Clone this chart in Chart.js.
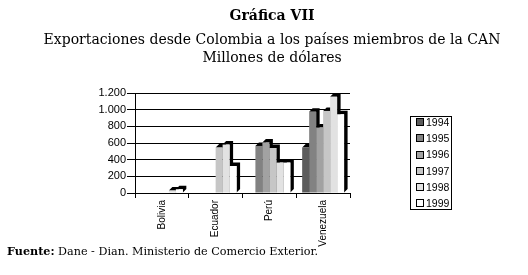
<!DOCTYPE html>
<html>
<head>
<meta charset="utf-8">
<script src="https://cdn.jsdelivr.net/npm/chart.js@4/dist/chart.umd.min.js"></script>
<style>
  html, body { margin: 0; padding: 0; background: #fff; }
  #wrap { position: relative; width: 528px; height: 275px; overflow: hidden; background: #fff; }
  #c { position: absolute; left: 0; top: 0; }
  .t { position: absolute; left: 0; width: 544px; text-align: center; font-family: "DejaVu Serif", serif; color: #000; white-space: nowrap; }
  #t1 { top: 8px; font-size: 14px; line-height: 14px; font-weight: bold; }
  #t2 { top: 32px; font-size: 14px; line-height: 14px; }
  #t3 { top: 50px; font-size: 14px; line-height: 14px; }
  #foot { position: absolute; left: 7px; top: 246px; font-family: "DejaVu Serif", serif; font-size: 11.2px; line-height: 11px; color: #000; white-space: nowrap; }
  #legend { position: absolute; left: 410px; top: 116px; width: 42px; height: 94px; border: 1px solid #000; box-sizing: border-box; font-family: "Liberation Sans", Arial, sans-serif; font-size: 10.5px; color: #000; }
  .li { position: absolute; left: 5px; height: 12px; line-height: 12px; }
  .sw { display: inline-block; width: 6px; height: 6px; border: 1px solid #000; vertical-align: middle; margin-right: 2px; margin-top: -2px; }
</style>
</head>
<body>
<div id="wrap">
  <canvas id="c" width="528" height="275"></canvas>
  <div class="t" id="t1">Gráfica VII</div>
  <div class="t" id="t2">Exportaciones desde Colombia a los países miembros de la CAN</div>
  <div class="t" id="t3">Millones de dólares</div>
  <div id="foot"><b>Fuente:</b> Dane - Dian. Ministerio de Comercio Exterior.</div>
  <div id="legend"></div>
</div>
<script>
// ---- data ----
const categories = ['Bolivia', 'Ecuador', 'Perú', 'Venezuela'];
const years = ['1994', '1995', '1996', '1997', '1998', '1999'];
const v1994 = [0, 0, 0, 545];
const v1995 = [0, 0, 565, 975];
const v1996 = [0, 0, 605, 785];
const v1997 = [0, 545, 540, 985];
const v1998 = [29, 581, 365, 1155];
const v1999 = [45, 324, 365, 945];
const yTicks = [0, 200, 400, 600, 800, 1000, 1200];

const seriesValues = [v1994, v1995, v1996, v1997, v1998, v1999];
const colors = ['#5c5c5c', '#828282', '#a2a2a2', '#c6c6c6', '#e2e2e2', '#ffffff'];

// ---- legend (HTML) ----
const leg = document.getElementById('legend');
years.forEach((y, i) => {
  const d = document.createElement('div');
  d.className = 'li';
  d.style.top = (-1 + i * 16.2) + 'px';
  d.innerHTML = '<span class="sw" style="background:' + colors[i] + '"></span>' + y;
  leg.appendChild(d);
});

// ---- 3D depth plugin ----
const depth = {
  id: 'depth',
  beforeDatasetsDraw(chart) {
    const ctx = chart.ctx;
    ctx.save();
    ctx.fillStyle = '#000';
    chart.data.datasets.forEach((ds, i) => {
      const meta = chart.getDatasetMeta(i);
      meta.data.forEach((bar, j) => {
        if (!ds.data[j]) return;
        const p = bar.getProps(['x', 'y', 'base', 'width'], true);
        const l = p.x - p.width / 2, r = p.x + p.width / 2, dx = 3.5, dy = 3.5;
        ctx.beginPath();
        ctx.moveTo(l, p.y);
        ctx.lineTo(l + dx, p.y - dy);
        ctx.lineTo(r + dx, p.y - dy);
        ctx.lineTo(r + dx, p.base - dy);
        ctx.lineTo(r, p.base);
        ctx.lineTo(r, p.y);
        ctx.closePath();
        ctx.fill();
      });
    });
    ctx.restore();
  }
};

const fmt = v => String(v).replace(/\B(?=(\d{3})+(?!\d))/g, '.');

new Chart(document.getElementById('c'), {
  type: 'bar',
  data: {
    labels: categories,
    datasets: years.map((y, i) => ({
      label: y,
      data: seriesValues[i],
      backgroundColor: colors[i],
      borderWidth: 0,
      barPercentage: 1.0,
      categoryPercentage: 0.78
    }))
  },
  options: {
    responsive: false,
    animation: false,
    layout: { padding: { left: 0, top: 93, right: 178, bottom: 0 } },
    plugins: { legend: { display: false }, tooltip: { enabled: false }, title: { display: false } },
    scales: {
      x: {
        afterFit(s) { s.height = 82; },
        grid: { display: true, drawOnChartArea: false, drawTicks: true, tickLength: 5, color: '#000', offset: true },
        border: { display: true, color: '#000' },
        ticks: { minRotation: 90, maxRotation: 90, autoSkip: false, padding: 2, color: '#000',
                 font: { family: '"Liberation Sans", Arial, sans-serif', size: 10 } }
      },
      y: {
        min: 0, max: 1200,
        afterFit(s) { s.width = 135; },
        afterBuildTicks(s) { s.ticks = yTicks.map(v => ({ value: v })); },
        grid: { color: '#000', lineWidth: 1, tickLength: 8, drawTicks: true },
        border: { display: true, color: '#000' },
        ticks: { padding: 1, color: '#000', callback: v => fmt(v),
                 font: { family: '"Liberation Sans", Arial, sans-serif', size: 11 } }
      }
    }
  },
  plugins: [depth]
});
</script>
</body>
</html>
